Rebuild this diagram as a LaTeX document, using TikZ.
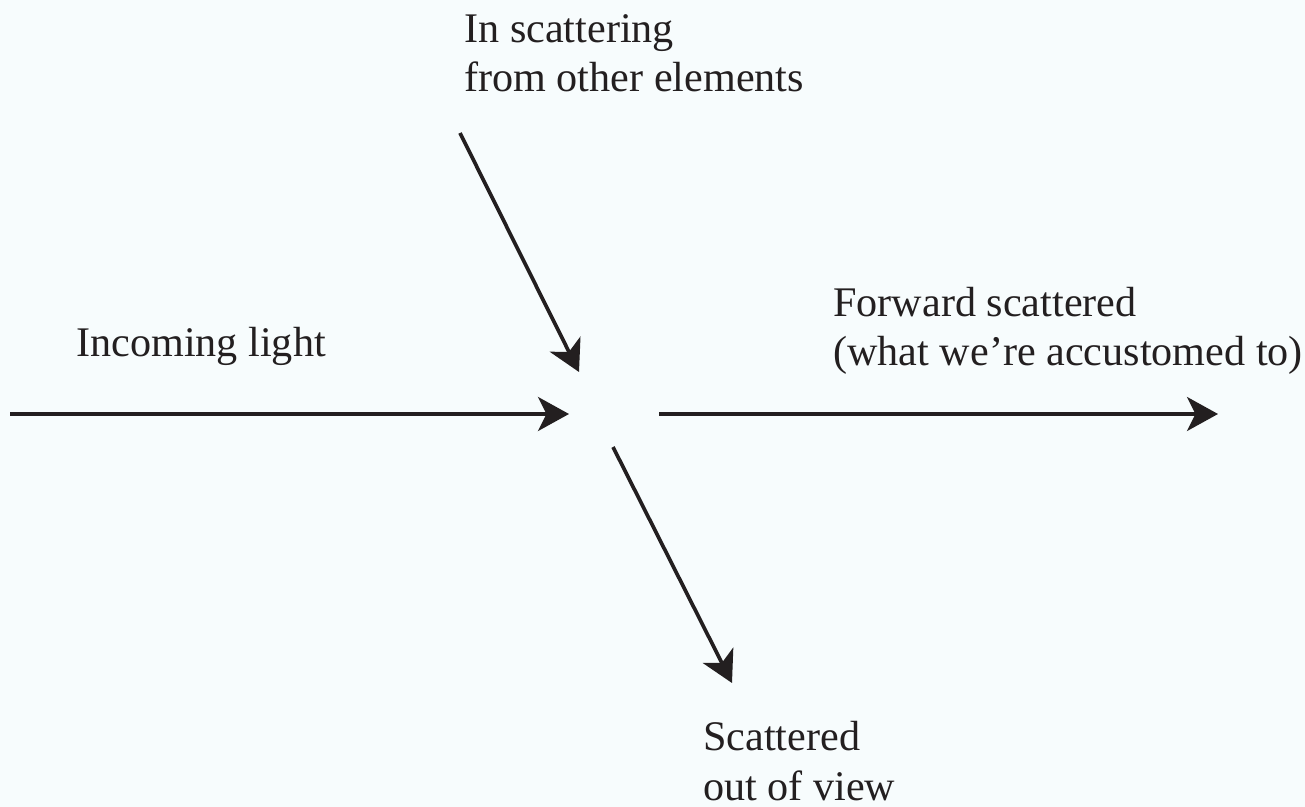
\documentclass[tikz,border=0pt]{standalone}
\usepackage{fontspec}
\setmainfont{Liberation Serif}
\usetikzlibrary{positioning, calc, arrows.meta}

\definecolor{paper}{RGB}{247,252,253}
\definecolor{ink}{RGB}{35,31,32}

\begin{document}
\begin{tikzpicture}[
    x=0.02cm, y=-0.02cm,
    ray/.style={draw=ink, line width=2.1pt,
                -{Stealth[length=0.62cm, width=0.68cm, inset=0.17cm]}},
    label/.style={text=ink, inner sep=0pt, anchor=base west, align=left,
                  font=\fontsize{24}{28}\selectfont},
]

% =================================================================
%  PAPER
% =================================================================
\fill[paper] (0, 0) rectangle (1305, 807);
\useasboundingbox (0, 0) rectangle (1305, 807);

% =================================================================
%  RAY END POINTS
% =================================================================
\coordinate (inA)  at (10, 414);
\coordinate (inB)  at (569, 414);
\coordinate (fwA)  at (659, 414);
\coordinate (fwB)  at (1218, 414);
\coordinate (isA)  at (460, 133);
\coordinate (isB)  at (579, 372);
\coordinate (outA) at (613, 447);
\coordinate (outB) at (732, 683);

\draw[ray] (inA)  -- (inB);
\draw[ray] (fwA)  -- (fwB);
\draw[ray] (isA)  -- (isB);
\draw[ray] (outA) -- (outB);

% =================================================================
%  LABELS  (base = last line)
% =================================================================
\node[label] (inscat)   at (464, 92)  {In scattering\\from other elements};
\node[label] (incoming) at (76, 357)  {Incoming light};
\node[label] (forward)  at (833, 366) {Forward scattered\\(what we’re accustomed to)};
\node[label] (outview)  at (703, 800) {Scattered\\out of view};

\end{tikzpicture}
\end{document}
